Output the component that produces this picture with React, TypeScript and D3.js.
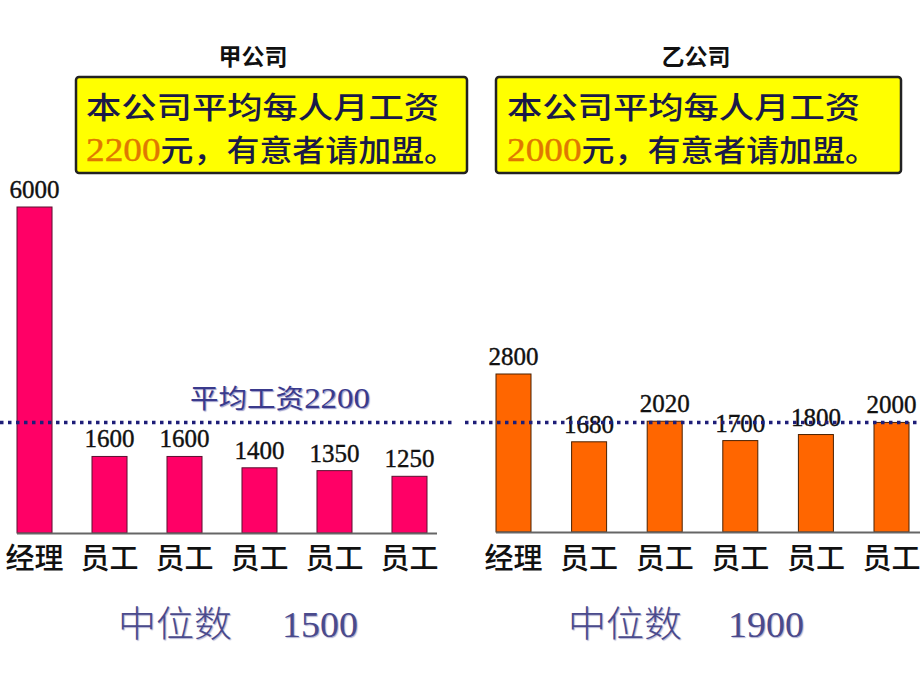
import React from "react";
import * as d3 from "d3";

const companies = ["甲公司", "乙公司"];
const categoriesA = ["经理", "员工", "员工", "员工", "员工", "员工"];
const categoriesB = ["经理", "员工", "员工", "员工", "员工", "员工"];
const salariesA = [6000, 1600, 1600, 1400, 1350, 1250];
const salariesB = [2800, 1680, 2020, 1700, 1800, 2000];
const advertisedMeans = [2200, 2000];
const medians = [1500, 1900];
const adLine1 = "本公司平均每人月工资";
const adLine2Suffix = "元，有意者请加盟。";
const meanLabelPrefix = "平均工资";
const medianLabel = "中位数";

const W = 920;
const H = 690;
const CJK = "'Noto Sans CJK SC', 'Noto Sans', sans-serif";
const SERIF = "'Liberation Serif', 'DejaVu Serif', serif";

type Panel = {
  title: string;
  cats: string[];
  vals: number[];
  mean: number;
  median: number;
  color: string;
  stroke: string;
  xRange: [number, number];
  pad: number;
  yDomain: [number, number];
  yRange: [number, number];
  axis: [number, number];
  line: [number, number];
  titleX: number;
  box: [number, number, number, number];
  textX: number;
  medX: [number, number];
  showMeanLabel: boolean;
};

const panels: Panel[] = [
  {
    title: companies[0],
    cats: categoriesA,
    vals: salariesA,
    mean: advertisedMeans[0],
    median: medians[0],
    color: "#ff0066",
    stroke: "#5a1030",
    xRange: [17, 427],
    pad: 0.533,
    yDomain: [250, 6000],
    yRange: [533, 207],
    axis: [17, 437],
    line: [0, 453],
    titleX: 253,
    box: [76, 77, 391, 96],
    textX: 86,
    medX: [118, 282],
    showMeanLabel: true,
  },
  {
    title: companies[1],
    cats: categoriesB,
    vals: salariesB,
    mean: advertisedMeans[1],
    median: medians[1],
    color: "#ff6600",
    stroke: "#4a2000",
    xRange: [496, 909],
    pad: 0.537,
    yDomain: [190, 2800],
    yRange: [532, 374],
    axis: [496, 920],
    line: [465, 920],
    titleX: 696,
    box: [496, 77, 405, 96],
    textX: 507,
    medX: [568, 728],
    showMeanLabel: false,
  },
];

function PanelView({ p }: { p: Panel }) {
  const x = d3
    .scaleBand<number>()
    .domain(d3.range(p.vals.length))
    .range(p.xRange)
    .paddingInner(p.pad)
    .paddingOuter(0);
  const y = d3.scaleLinear().domain(p.yDomain).range(p.yRange);
  const base = p.yRange[0];
  const meanY = y(p.mean);
  const [bx, by, bw, bh] = p.box;
  return (
    <g>
      <text
        x={p.titleX}
        y={65}
        textAnchor="middle"
        fontFamily={CJK}
        fontWeight={700}
        fontSize={23}
        fill="#111"
      >
        {p.title}
      </text>
      <rect x={bx} y={by} width={bw} height={bh} rx={3} fill="#ffff00" stroke="#222" strokeWidth={2.5} />
      <text
        x={p.textX}
        y={118}
        fontFamily={CJK}
        fontWeight={500}
        fontSize={30}
        fill="#1a1a48"
        textLength={353}
        lengthAdjust="spacingAndGlyphs"
      >
        {adLine1}
      </text>
      <text
        x={p.textX}
        y={161}
        fontFamily={CJK}
        fontWeight={500}
        fontSize={30}
        fill="#1a1a48"
        textLength={371}
        lengthAdjust="spacingAndGlyphs"
      >
        <tspan fontFamily={SERIF} fontWeight={400} fontSize={34} fill="#e07800" stroke="#e07800" strokeWidth={0.4}>
          {String(p.mean)}
        </tspan>
        <tspan>{adLine2Suffix}</tspan>
      </text>

      {p.vals.map((v, i) => (
        <rect
          key={"b" + i}
          x={x(i)}
          y={y(v)}
          width={x.bandwidth()}
          height={base - y(v)}
          fill={p.color}
          stroke={p.stroke}
          strokeWidth={1}
        />
      ))}
      <line x1={p.axis[0]} x2={p.axis[1]} y1={base + 0.5} y2={base + 0.5} stroke="#666" strokeWidth={2} />
      {p.vals.map((v, i) => (
        <text
          key={"v" + i}
          x={(x(i) as number) + x.bandwidth() / 2}
          y={y(v) - 9}
          textAnchor="middle"
          fontFamily={SERIF}
          fontSize={25}
          fill="#111"
          stroke="#111"
          strokeWidth={0.4}
        >
          {v}
        </text>
      ))}
      {p.cats.map((c, i) => (
        <text
          key={"c" + i}
          x={(x(i) as number) + x.bandwidth() / 2}
          y={569}
          textAnchor="middle"
          fontFamily={CJK}
          fontWeight={500}
          fontSize={29}
          fill="#111"
        >
          {c}
        </text>
      ))}
      <line
        x1={p.line[0]}
        x2={p.line[1]}
        y1={meanY}
        y2={meanY}
        stroke="#1e1e78"
        strokeWidth={3.5}
        strokeDasharray="3.5 4.5"
      />
      {p.showMeanLabel && (
        <text
          x={190}
          y={meanY - 14}
          fontFamily={CJK}
          fontSize={26}
          fill="#3a3a8c"
          textLength={180}
          lengthAdjust="spacingAndGlyphs"
          style={{ textShadow: "1px 1px 1px #9a9ac8" }}
        >
          <tspan>{meanLabelPrefix}</tspan>
          <tspan fontFamily={SERIF} fontSize={30}>
            {String(p.mean)}
          </tspan>
        </text>
      )}
      <text
        x={p.medX[0]}
        y={637}
        fontFamily={CJK}
        fontWeight={300}
        fontSize={36}
        fill="#4a4a8c"
        textLength={114}
        lengthAdjust="spacingAndGlyphs"
        style={{ textShadow: "1px 1px 1px #b0b0d0" }}
      >
        {medianLabel}
      </text>
      <text
        x={p.medX[1]}
        y={637}
        fontFamily={SERIF}
        fontSize={35}
        fill="#4a4a8c"
        textLength={76}
        lengthAdjust="spacingAndGlyphs"
        style={{ textShadow: "1px 1px 1px #b0b0d0" }}
      >
        {String(p.median)}
      </text>
    </g>
  );
}

export default function App() {
  return (
    <svg
      width={W}
      height={H}
      viewBox={`0 0 ${W} ${H}`}
      style={{ position: "absolute", left: 0, top: 0, background: "#fff" }}
    >
      <rect x={0} y={0} width={W} height={H} fill="#fff" />
      {panels.map((p, i) => (
        <PanelView key={i} p={p} />
      ))}
    </svg>
  );
}
